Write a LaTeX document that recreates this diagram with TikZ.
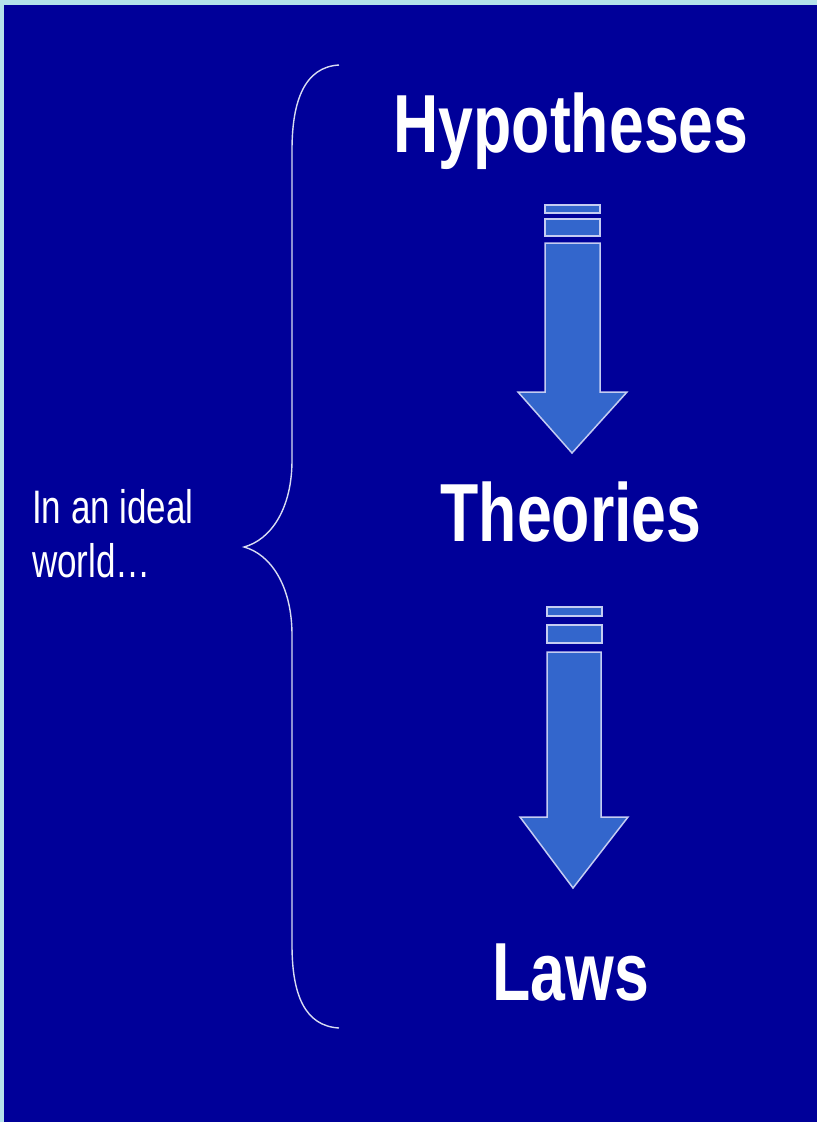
\documentclass[tikz,border=0pt]{standalone}
\usepackage{fontspec}
\setmainfont{Liberation Sans}
\definecolor{bgblue}{HTML}{000099}
\definecolor{frame}{HTML}{B4E2EA}
\definecolor{arrowfill}{HTML}{3366CC}
\definecolor{arrowline}{HTML}{C4CCF2}
\definecolor{bracecol}{HTML}{D8DCF2}
\begin{document}
\begin{tikzpicture}[x=1pt,y=-1pt,
  bigword/.style={text=white,font=\bfseries\fontsize{82.4}{90}\selectfont,anchor=base,inner sep=0pt,xscale=0.76,transform shape},
  sideword/.style={text=white,font=\fontsize{47}{54}\selectfont,anchor=base west,align=left,inner sep=0pt,xscale=0.745,transform shape},
  blockarrow/.style={fill=arrowfill,draw=arrowline,line width=1.5pt,line join=miter},
  bracestyle/.style={draw=bracecol,line width=1.4pt}]
\useasboundingbox (0,0) rectangle (817,1122);
\fill[frame] (0,0) rectangle (817,1122);
\fill[bgblue] (4,5) rectangle (817,1122);

\node[bigword] (hyp) at (571,152) {Hypotheses};
\node[bigword] (theo) at (571,541) {Theories};
\node[bigword] (laws) at (571,1000) {Laws};
\node[sideword] (ideal) at (32,577) {In an ideal\\world…};

% first block arrow
\draw[blockarrow] (545,205) rectangle (600,213);
\draw[blockarrow] (545,219) rectangle (600,236);
\draw[blockarrow] (545,243) -- (600,243) -- (600,392) -- (627,392) -- (572,453) -- (518,392) -- (545,392) -- cycle;

% second block arrow
\draw[blockarrow] (547,607) rectangle (602,616);
\draw[blockarrow] (547,625) rectangle (602,643);
\draw[blockarrow] (547,652) -- (601,652) -- (601,817) -- (628,817) -- (573,888) -- (520,817) -- (547,817) -- cycle;

% brace
\coordinate (btop) at (339,65);
\coordinate (bmid) at (244,547);
\coordinate (bbot) at (339,1028);
\draw[bracestyle] (btop) .. controls (305,67) and (292,100) .. (292,150) -- (292,460)
  .. controls (292,510) and (270,540) .. (bmid)
  .. controls (270,554) and (292,585) .. (292,635) -- (292,945)
  .. controls (292,995) and (305,1026) .. (bbot);
\end{tikzpicture}
\end{document}
